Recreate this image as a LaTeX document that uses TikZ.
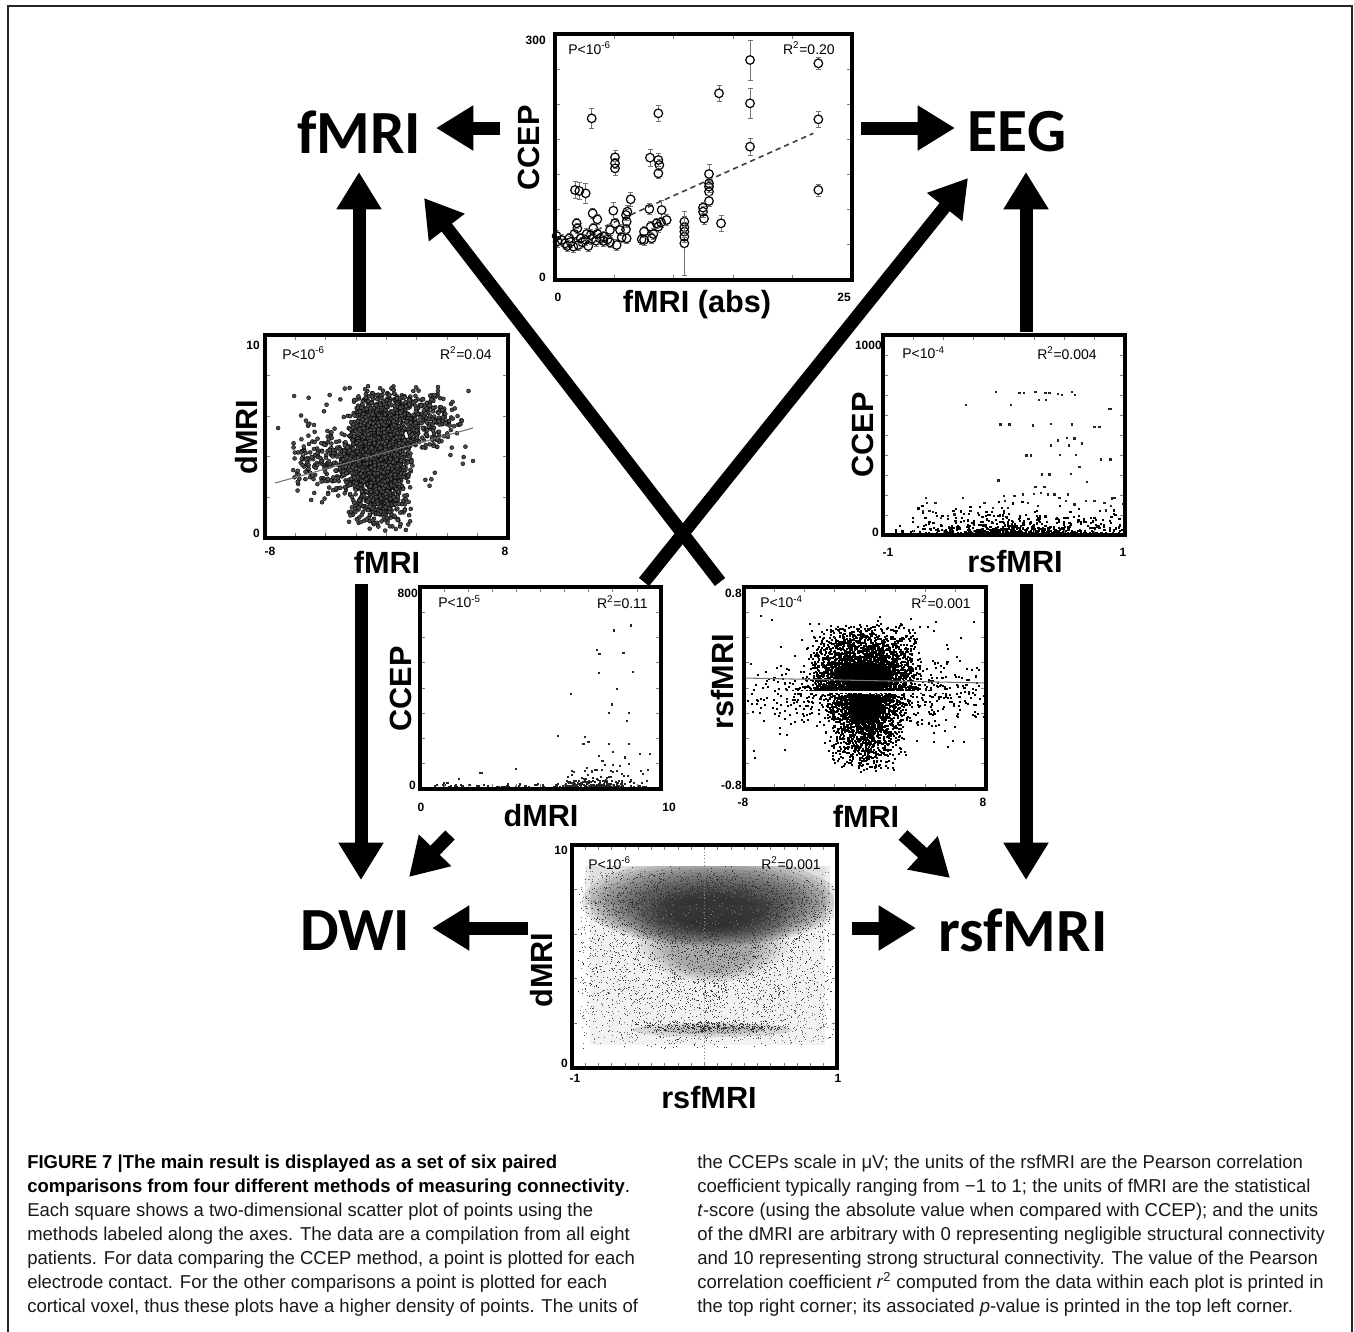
\documentclass[tikz,border=0pt]{standalone}
\usepackage{fontspec}
\setmainfont{Liberation Sans}
\newfontfamily\calib{Carlito}
\newfontfamily\capfont[FakeStretch=0.99]{Liberation Sans}
\usetikzlibrary{arrows.meta}
\newcommand\gau{(1.22*(rand+rand))}
% cloud of square dots: N, x0, W, ybottom, H, u-expr, v-expr, colour, size
\newcommand\cloud[9]{%
  \begin{scope}[fill=#8]%
  \foreach \i in {1,...,#1}{%
    \pgfmathsetmacro\uu{#2+#3*(#6)}\pgfmathsetmacro\vv{#4-#5*(#7)}%
    \pgfpathrectangle{\pgfpointxy{\uu}{\vv}}{\pgfpointxy{#9}{#9}}\pgfusepath{fill}}%
  \end{scope}}
% cloud of circle dots
\newcommand\cloudc[7]{%
  \begin{scope}[fill=black!70, draw=black, line width=0.3pt]%
  \foreach \i in {1,...,#1}{%
    \pgfmathsetmacro\uu{#2+#3*(#6)}\pgfmathsetmacro\vv{#4-#5*(#7)}%
    \pgfpathcircle{\pgfpointxy{\uu}{\vv}}{1.5pt}\pgfusepath{fill,stroke}}%
  \end{scope}}
% ticks: x0,y0,x1,y1,nx-1,ny-1
\newcommand\pticks[6]{%
  \foreach \k in {1,...,#5}{\pgfmathsetmacro\tx{#1+(#3-#1)*\k/(#5+1)}%
    \draw[tickmark] (\tx,#4) -- ++(0,-5); \draw[tickmark] (\tx,#2) -- ++(0,5);}%
  \foreach \k in {1,...,#6}{\pgfmathsetmacro\ty{#2+(#4-#2)*\k/(#6+1)}%
    \draw[tickmark] (#1,\ty) -- ++(5,0); \draw[tickmark] (#3,\ty) -- ++(-5,0);}}
\begin{document}
\begin{tikzpicture}[x=0.75pt,y=-0.75pt,
  biglab/.style={font=\calib\bfseries\fontsize{46}{50}\selectfont, inner sep=0pt},
  axlab/.style={font=\bfseries\fontsize{23}{26}\selectfont, inner sep=0pt},
  ticklab/.style={font=\bfseries\fontsize{9}{10}\selectfont, inner sep=0pt},
  statlab/.style={font=\fontsize{10.5}{12}\selectfont, inner sep=0pt},
  bigarrow/.style={line width=9.75pt, -{Triangle[length=28pt,width=32pt]}},
  plotframe/.style={draw=black, line width=2.3pt},
  tickmark/.style={draw=black!50, line width=0.6pt},
  capreg/.style={font=\capfont\fontsize{14}{18}\selectfont, text=black!90, inner sep=0pt, anchor=base west},
  capbold/.style={font=\capfont\bfseries\fontsize{14}{18}\selectfont, text=black, inner sep=0pt, anchor=base west},
]
\useasboundingbox (0,0) rectangle (1354,1332);
\pgfmathsetseed{7}
% outer frame
\draw[black!85, line width=1.5pt] (8,1332) -- (8,6) -- (1352,6) -- (1352,1332);

% ---------- big labels ----------
\node[biglab] (lfmri) at (359,132) {fMRI};
\node[biglab] (leeg) at (1017,132) {EEG};
\node[biglab] (ldwi) at (355,931) {DWI};
\node[biglab] (lrsf) at (1023,930) {rsfMRI};

% ---------- arrow end points ----------
\coordinate (a1s) at (500,128);  \coordinate (a1t) at (436,128);
\coordinate (a2s) at (861,128);  \coordinate (a2t) at (955,128);
\coordinate (a3s) at (359,332);  \coordinate (a3t) at (359,172);
\coordinate (a4s) at (1026,332); \coordinate (a4t) at (1026,172);
\coordinate (a5s) at (361,584);  \coordinate (a5t) at (361,880);
\coordinate (a6s) at (1026,584); \coordinate (a6t) at (1026,880);
\coordinate (a7s) at (528,928);  \coordinate (a7t) at (432,928);
\coordinate (a8s) at (852,928);  \coordinate (a8t) at (916,928);
\coordinate (a9s) at (450,835);  \coordinate (a9t) at (409,877);
\coordinate (a10s) at (903,835); \coordinate (a10t) at (950,878);
\coordinate (a11s) at (644,582); \coordinate (a11t) at (968,178);
\coordinate (a12s) at (720,582); \coordinate (a12t) at (424,198);
\foreach \n in {1,...,12} \draw[bigarrow] (a\n s) -- (a\n t);

% ================= Plot A (top): CCEP vs fMRI(abs) =================
\pticks{555}{34}{852}{280}{4}{6}
\draw[black!75, line width=1.2pt, dash pattern=on 4pt off 3pt] (596.7,230) -- (813.3,133.3);
\foreach \zx/\zy/\e in {215/265/30,415/250/25,597/190/25,690/90/60,690/220/45,895/100/18,895/268/25,690/350/25,895/480/18,
 285/382/20,285/400/15,285/415/20,390/383/25,415/390/20,418/405/15,415/430/15,
 165/480/25,178/483/25,197/490/30,
 567/432/30,567/460/15,567/470/12,567/485/12,567/513/15,
 549/533/12,549/545/12,552/566/12,603/580/25,
 493/575/15,493/592/12,493/605/12,493/620/12,493/640/95,
 332/508/20,322/545/20,318/555/15,320/575/15,318/598/15,320/625/15,
 280/542/25,285/580/15,270/600/15,
 388/537/15,392/590/15,372/630/12,400/612/12,
 425/540/30,423/577/15,415/590/12,
 218/550/15,232/568/15,220/595/12,212/615/12,
 170/580/15,172/595/12,163/612/12,
 110/618/10,113/635/10,135/640/12,152/636/10,160/650/12,175/645/12,187/637/10,197/630/10,205/648/12,215/627/10,
 228/632/10,240/625/10,252/620/10,263/628/10,270/637/10,290/645/10,125/630/10,142/648/10,182/625/10,200/612/10,
 148/625/10,250/633/10,232/612/10,300/600/10,305/622/10,365/628/10,372/605/12,395/625/12,410/580/12,440/570/15}{%
  \pgfmathsetmacro\ee{max(\e,16)}%
  \pgfmathsetmacro\px{520+\zx/3}\pgfmathsetmacro\py{30+\zy/3}\pgfmathsetmacro\ed{\ee/3}%
  \draw[black!55, line width=0.6pt] (\px,\py-\ed) -- (\px,\py-4) (\px,\py+4) -- (\px,\py+\ed)
     (\px-2.5,\py-\ed) -- (\px+2.5,\py-\ed) (\px-2.5,\py+\ed) -- (\px+2.5,\py+\ed);
  \draw[black, line width=0.9pt] (\px,\py) circle[radius=4.3];}
\draw[plotframe] (555,34) rectangle (852,280);
\node[ticklab, anchor=east] (A300) at (546,40) {300};
\node[ticklab, anchor=east] (A0y) at (546,277) {0};
\node[ticklab] (A0x) at (558,297) {0};
\node[ticklab] (A25) at (844,297) {25};
\node[statlab, anchor=west] (Ap) at (568,48) {P<10\textsuperscript{-6}};
\node[statlab, anchor=east] (Ar) at (835,48) {R\textsuperscript{2}=0.20};
\node[axlab, rotate=90] (Ay) at (529,148) {CCEP};
\node[axlab] (Ax) at (697,305) {fMRI (abs)};

% ================= Plot B (left middle): dMRI vs fMRI =================
\begin{scope}
\clip (265,335) rectangle (508,538);
\cloudc{350}{265}{243}{538}{203}{0.61+0.09*\gau}{0.58+0.07*\gau}
\cloudc{300}{265}{243}{538}{203}{0.31+0.09*\gau}{0.36+0.08*\gau}
\cloudc{110}{265}{243}{538}{203}{0.5+0.2*\gau}{0.5+0.12*\gau}
\fill[black] (380,457) ellipse [x radius=19, y radius=42];
\cloudc{1900}{265}{243}{538}{203}{0.47+0.058*\gau}{0.39+0.15*\gau}
\end{scope}
\draw[black!55, line width=0.8pt] (275,483) -- (473,428);
\pticks{265}{335}{508}{538}{7}{4}
\draw[plotframe] (265,335) rectangle (508,538);
\node[ticklab, anchor=east] (B10) at (260,345) {10};
\node[ticklab, anchor=east] (B0y) at (260,533) {0};
\node[ticklab] (Bm8) at (270,551) {-8};
\node[ticklab] (B8) at (505,551) {8};
\node[statlab, anchor=west] (Bp) at (282,353) {P<10\textsuperscript{-6}};
\node[statlab, anchor=east] (Br) at (492,353) {R\textsuperscript{2}=0.04};
\node[axlab, rotate=90] (By) at (247,437) {dMRI};
\node[axlab] (Bx) at (387,562) {fMRI};

% ================= Plot C (right middle): CCEP vs rsfMRI =================
\begin{scope}
\clip (883,335) rectangle (1125,535);
\cloud{1300}{883}{242}{535}{200}{0.55+0.21*\gau}{0.003+0.012*abs(\gau)^3}{black}{2.2}
\foreach \zx/\zy in {465/213,535/215,548/215,583/213,613/215,625/215,593/236,615/236,650/218,662/222,692/213,702/222,
 375/252,510/252,478/310,505/310,576/313,630/308,692/310,805/263,810/263,760/318,775/318,678/350,700/352,650/358,630/373,
 683/373,722/367,556/403,570/403,657/402,705/402,780/415,808/415,715/438,603/460,625/460,689/458,737/483,472/478,583/498,
 610/498,255/530,258/545,283/545,245/570,265/570,275/573,365/530,430/545,488/525,492/540,520/525,545/520,578/518,600/515,
 620/520,640/520,655/530,675/540,700/550,735/540,760/540,790/545,812/532,820/530,845/548,810/555,795/568,500/560,455/560,
 410/575,390/570,340/580,320/585,300/590,560/545,590/555,680/520}
 \fill[black!85] ({840+\zx/3},{320+\zy/3}) rectangle ++(2.4,2.4);
\end{scope}
\pticks{883}{335}{1125}{535}{7}{9}
\draw[plotframe] (883,335) rectangle (1125,535);
\node[ticklab, anchor=east] (C1000) at (882,345) {1000};
\node[ticklab, anchor=east] (C0y) at (879,532) {0};
\node[ticklab] (Cm1) at (888,552) {-1};
\node[ticklab] (C1) at (1123,552) {1};
\node[statlab, anchor=west] (Cp) at (902,353) {P<10\textsuperscript{-4}};
\node[statlab, anchor=east] (Cr) at (1097,353) {R\textsuperscript{2}=0.004};
\node[axlab, rotate=90] (Cy) at (863,435) {CCEP};
\node[axlab] (Cx) at (1015,562) {rsfMRI};

% ================= Plot D (centre left): CCEP vs dMRI =================
\begin{scope}
\clip (420,587) rectangle (661,789);
\cloud{350}{420}{241}{789}{202}{0.5+0.45*rand}{0.003+0.006*\gau^2}{black!85}{2}
\cloud{500}{420}{241}{789}{202}{0.74+0.09*\gau}{0.004+0.01*abs(\gau)^3}{black!85}{2}
\foreach \zx/\zy in {655/155,610/170,565/230,572/243,636/240,570/300,662/297,497/366,618/350,605/397,597/423,651/423,
 646/447,462/495,534/498,530/519,543/512,597/518,650/518,680/548,706/548,607/542,570/555,580/570,640/560,700/598,352/594,
 255/607,262/607,200/625,170/637,160/640}
 \fill[black!85] ({420+0.37774*(\zx-100)},{789-0.32581*(660-\zy)}) rectangle ++(2.2,2.2);
\end{scope}
\pticks{420}{587}{661}{789}{9}{7}
\draw[plotframe] (420,587) rectangle (661,789);
\node[ticklab, anchor=east] (D800) at (418,593) {800};
\node[ticklab, anchor=east] (D0y) at (416,785) {0};
\node[ticklab] (D0x) at (421,807) {0};
\node[ticklab] (D10) at (669,807) {10};
\node[statlab, anchor=west] (Dp) at (438,602) {P<10\textsuperscript{-5}};
\node[statlab, anchor=east] (Dr) at (648,602) {R\textsuperscript{2}=0.11};
\node[axlab, rotate=90] (Dy) at (401,689) {CCEP};
\node[axlab] (Dx) at (541,816) {dMRI};

% ================= Plot E (centre right): rsfMRI vs fMRI =================
\begin{scope}
\clip (744,587) rectangle (986,789);
\fill[black] (863,674) ellipse [x radius=30, y radius=12];
\fill[black] (865,708) ellipse [x radius=16, y radius=14];
\cloud{2600}{744}{242}{789}{202}{0.49+0.1*\gau}{0.487+0.14*abs(\gau)}{black}{2}
\cloud{1700}{744}{242}{789}{202}{0.5+0.07*\gau}{0.472-0.16*abs(\gau)}{black}{2}
\cloud{800}{744}{242}{789}{202}{0.5+0.22*\gau}{0.49+0.08*\gau}{black}{2}
\cloud{100}{744}{242}{789}{202}{0.5+0.47*rand}{0.5+0.36*rand}{black}{2}
\draw[white, line width=1.2pt] (780,692) -- (950,692);
\end{scope}
\draw[black!55, line width=0.8pt] (744,678) -- (986,683);
\pticks{744}{587}{986}{789}{7}{7}
\draw[plotframe] (744,587) rectangle (986,789);
\node[ticklab, anchor=east] (E08) at (742,593) {0.8};
\node[ticklab, anchor=east] (Em08) at (742,785) {-0.8};
\node[ticklab] (Em8) at (743,802) {-8};
\node[ticklab] (E8) at (983,802) {8};
\node[statlab, anchor=west] (Ep) at (760,602) {P<10\textsuperscript{-4}};
\node[statlab, anchor=east] (Er) at (971,602) {R\textsuperscript{2}=0.001};
\node[axlab, rotate=90] (Ey) at (723,682) {rsfMRI};
\node[axlab] (Ex) at (866,816) {fMRI};

% ================= Plot F (bottom): dMRI vs rsfMRI =================
\begin{scope}
\clip (578,866) rectangle (834,1048);
\fill[black, opacity=0.08] (585,866) rectangle (830,905);
\fill[black, opacity=0.05] (590,866) rectangle (825,1045);
\foreach \k in {0,...,11}
  \fill[black, opacity=0.10] (712,{902+0.8*\k}) ellipse [x radius={130-7.5*\k}, y radius={44-2.6*\k}];
\foreach \k in {0,...,6}
  \fill[black, opacity=0.05] (712,{935+2*\k}) ellipse [x radius={78-6*\k}, y radius={48-4*\k}];
\fill[black, opacity=0.12] (712,1030) ellipse [x radius=80, y radius=7];
\fill[black, opacity=0.12] (712,1030) ellipse [x radius=50, y radius=4];
\cloud{2000}{572}{265}{1068}{223}{0.5+0.47*rand}{0.5+0.39*rand}{black!55}{0.9}
\cloud{1800}{572}{265}{1068}{223}{0.52+0.2*\gau}{0.73+0.065*\gau}{black!80}{1}
\cloud{1300}{572}{265}{1068}{223}{0.52+0.23*\gau}{0.6+0.15*\gau}{black!80}{1}
\cloud{1000}{572}{265}{1068}{223}{0.52+0.24*\gau}{0.35+0.22*\gau}{black!80}{1}
\cloud{400}{572}{265}{1068}{223}{0.52+0.13*\gau}{0.185+0.012*\gau}{black!80}{1}
\end{scope}
\draw[black!50, line width=0.5pt, dotted] (704.5,845) -- (704.5,1068);
\pticks{572}{845}{837}{1068}{19}{4}
\draw[plotframe] (572,845) rectangle (837,1068);
\node[ticklab, anchor=east] (F10) at (568,850) {10};
\node[ticklab, anchor=east] (F0y) at (568,1063) {0};
\node[ticklab] (Fm1) at (575,1078) {-1};
\node[ticklab] (F1) at (838,1078) {1};
\node[statlab, anchor=west] (Fp) at (588,863) {P<10\textsuperscript{-6}};
\node[statlab, anchor=east] (Fr) at (821,863) {R\textsuperscript{2}=0.001};
\node[axlab, rotate=90] (Fy) at (542,970) {dMRI};
\node[axlab] (Fx) at (709,1098) {rsfMRI};

% ================= caption =================
\node[capbold] (c1) at (27,1168) {FIGURE 7 |The main result is displayed as a set of six paired};
\node[capbold] (c2) at (27,1192) {comparisons from four different methods of measuring connectivity{\mdseries .}};
\node[capreg] (c3) at (27,1216) {Each square shows a two-dimensional scatter plot of points using the};
\node[capreg] (c4) at (27,1240) {methods labeled along the axes. The data are a compilation from all eight};
\node[capreg] (c5) at (27,1264) {patients. For data comparing the CCEP method, a point is plotted for each};
\node[capreg] (c6) at (27,1288) {electrode contact. For the other comparisons a point is plotted for each};
\node[capreg] (c7) at (27,1312) {cortical voxel, thus these plots have a higher density of points. The units of};
\node[capreg] (d1) at (697,1168) {the CCEPs scale in μV; the units of the rsfMRI are the Pearson correlation};
\node[capreg] (d2) at (697,1192) {coefficient typically ranging from −1 to 1; the units of fMRI are the statistical};
\node[capreg] (d3) at (697,1216) {\textit{t}-score (using the absolute value when compared with CCEP); and the units};
\node[capreg] (d4) at (697,1240) {of the dMRI are arbitrary with 0 representing negligible structural connectivity};
\node[capreg] (d5) at (697,1264) {and 10 representing strong structural connectivity. The value of the Pearson};
\node[capreg] (d6) at (697,1288) {correlation coefficient \textit{r}\textsuperscript{2} computed from the data within each plot is printed in};
\node[capreg] (d7) at (697,1312) {the top right corner; its associated \textit{p}-value is printed in the top left corner.};
\end{tikzpicture}
\end{document}
